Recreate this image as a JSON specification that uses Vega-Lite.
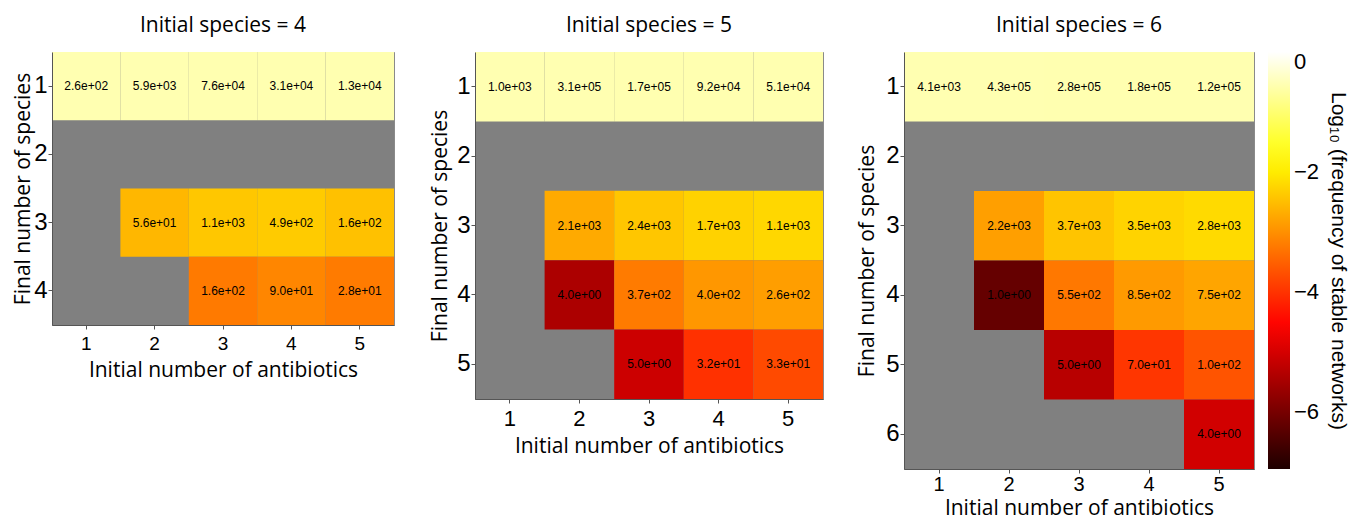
{
  "$schema": "https://vega.github.io/schema/vega-lite/v6.json",
  "background": "white",
  "padding": {"left": 12, "top": 14, "right": 0, "bottom": 0},
  "datasets": {
    "s4": [
      {"a": 1, "s": 1, "count": 260, "label": "2.6e+02", "logf": -0.55},
      {"a": 2, "s": 1, "count": 5900, "label": "5.9e+03", "logf": -0.55},
      {"a": 3, "s": 1, "count": 76000, "label": "7.6e+04", "logf": -0.56},
      {"a": 4, "s": 1, "count": 31000, "label": "3.1e+04", "logf": -0.56},
      {"a": 5, "s": 1, "count": 13000, "label": "1.3e+04", "logf": -0.56},
      {"a": 2, "s": 3, "count": 56, "label": "5.6e+01", "logf": -2.58},
      {"a": 3, "s": 3, "count": 1100, "label": "1.1e+03", "logf": -2.40},
      {"a": 4, "s": 3, "count": 490, "label": "4.9e+02", "logf": -2.36},
      {"a": 5, "s": 3, "count": 160, "label": "1.6e+02", "logf": -2.47},
      {"a": 3, "s": 4, "count": 160, "label": "1.6e+02", "logf": -3.23},
      {"a": 4, "s": 4, "count": 90, "label": "9.0e+01", "logf": -3.10},
      {"a": 5, "s": 4, "count": 28, "label": "2.8e+01", "logf": -3.22}
    ],
    "s5": [
      {"a": 1, "s": 1, "count": 1000, "label": "1.0e+03", "logf": -0.55},
      {"a": 2, "s": 1, "count": 310000, "label": "3.1e+05", "logf": -0.55},
      {"a": 3, "s": 1, "count": 170000, "label": "1.7e+05", "logf": -0.56},
      {"a": 4, "s": 1, "count": 92000, "label": "9.2e+04", "logf": -0.56},
      {"a": 5, "s": 1, "count": 51000, "label": "5.1e+04", "logf": -0.56},
      {"a": 2, "s": 3, "count": 2100, "label": "2.1e+03", "logf": -2.72},
      {"a": 3, "s": 3, "count": 2400, "label": "2.4e+03", "logf": -2.41},
      {"a": 4, "s": 3, "count": 1700, "label": "1.7e+03", "logf": -2.29},
      {"a": 5, "s": 3, "count": 1100, "label": "1.1e+03", "logf": -2.23},
      {"a": 2, "s": 4, "count": 4, "label": "4.0e+00", "logf": -5.44},
      {"a": 3, "s": 4, "count": 370, "label": "3.7e+02", "logf": -3.22},
      {"a": 4, "s": 4, "count": 400, "label": "4.0e+02", "logf": -2.92},
      {"a": 5, "s": 4, "count": 260, "label": "2.6e+02", "logf": -2.85},
      {"a": 3, "s": 5, "count": 5, "label": "5.0e+00", "logf": -5.09},
      {"a": 4, "s": 5, "count": 32, "label": "3.2e+01", "logf": -4.02},
      {"a": 5, "s": 5, "count": 33, "label": "3.3e+01", "logf": -3.75}
    ],
    "s6": [
      {"a": 1, "s": 1, "count": 4100, "label": "4.1e+03", "logf": -0.55},
      {"a": 2, "s": 1, "count": 430000, "label": "4.3e+05", "logf": -0.55},
      {"a": 3, "s": 1, "count": 280000, "label": "2.8e+05", "logf": -0.56},
      {"a": 4, "s": 1, "count": 180000, "label": "1.8e+05", "logf": -0.56},
      {"a": 5, "s": 1, "count": 120000, "label": "1.2e+05", "logf": -0.56},
      {"a": 2, "s": 3, "count": 2200, "label": "2.2e+03", "logf": -2.84},
      {"a": 3, "s": 3, "count": 3700, "label": "3.7e+03", "logf": -2.44},
      {"a": 4, "s": 3, "count": 3500, "label": "3.5e+03", "logf": -2.27},
      {"a": 5, "s": 3, "count": 2800, "label": "2.8e+03", "logf": -2.20},
      {"a": 2, "s": 4, "count": 1, "label": "1.0e+00", "logf": -6.19},
      {"a": 3, "s": 4, "count": 550, "label": "5.5e+02", "logf": -3.26},
      {"a": 4, "s": 4, "count": 850, "label": "8.5e+02", "logf": -2.89},
      {"a": 5, "s": 4, "count": 750, "label": "7.5e+02", "logf": -2.77},
      {"a": 3, "s": 5, "count": 5, "label": "5.0e+00", "logf": -5.31},
      {"a": 4, "s": 5, "count": 70, "label": "7.0e+01", "logf": -3.97},
      {"a": 5, "s": 5, "count": 100, "label": "1.0e+02", "logf": -3.64},
      {"a": 5, "s": 6, "count": 4, "label": "4.0e+00", "logf": -5.04}
    ]
  },
  "spacing": 81,
  "bounds": "flush",
  "hconcat": [
    {
      "width": 342,
      "height": 273,
      "title": {"text": "Initial species = 4"},
      "data": {"name": "s4"},
      "encoding": {
        "x": {"field": "a", "type": "ordinal", "scale": {"domain": [1, 2, 3, 4, 5], "paddingInner": 0, "paddingOuter": 0},
              "axis": {"title": "Initial number of antibiotics", "labelFontSize": 19}},
        "y": {"field": "s", "type": "ordinal", "scale": {"domain": [1, 2, 3, 4], "paddingInner": 0, "paddingOuter": 0},
              "axis": {"title": "Final number of species", "titlePadding": 0}}
      },
      "layer": [
        {"mark": {"type": "rect"},
         "encoding": {"color": {"field": "logf", "type": "quantitative",
           "scale": {"domain": [-6.95, -4.55, -1.8, 0], "range": ["#1e0000", "#ff0000", "#ffff00", "#ffffff"], "interpolate": "rgb"},
           "legend": {"orient": "none", "legendX": 1216, "legendY": 0, "direction": "vertical", "gradientLength": 417, "gradientThickness": 22,
                      "values": [-6, -4, -2, 0], "title": "Log₁₀ (frequency of stable networks)", "titleOrient": "right", "titleAnchor": "middle",
                      "titleFontSize": 21, "titleFont": "Liberation Sans", "titleFontWeight": "normal", "titlePadding": 9, "titleLimit": 600,
                      "labelFontSize": 22, "labelOffset": 4, "padding": 0, "gradientStrokeColor": "#999999", "labelColor": "#000000", "titleColor": "#000000"}}}},
        {"mark": {"type": "text", "fontSize": 12, "color": "#000000"}, "encoding": {"text": {"field": "label"}}}
      ]
    },
    {
      "width": 348,
      "height": 347,
      "title": {"text": "Initial species = 5"},
      "data": {"name": "s5"},
      "encoding": {
        "x": {"field": "a", "type": "ordinal", "scale": {"domain": [1, 2, 3, 4, 5], "paddingInner": 0, "paddingOuter": 0},
              "axis": {"title": "Initial number of antibiotics"}},
        "y": {"field": "s", "type": "ordinal", "scale": {"domain": [1, 2, 3, 4, 5], "paddingInner": 0, "paddingOuter": 0},
              "axis": {"title": "Final number of species", "titlePadding": 6}}
      },
      "layer": [
        {"mark": {"type": "rect"},
         "encoding": {"color": {"field": "logf", "type": "quantitative",
           "scale": {"domain": [-6.95, -4.55, -1.8, 0], "range": ["#1e0000", "#ff0000", "#ffff00", "#ffffff"], "interpolate": "rgb"}}}},
        {"mark": {"type": "text", "fontSize": 12, "color": "#000000"}, "encoding": {"text": {"field": "label"}}}
      ]
    },
    {
      "width": 350,
      "height": 417,
      "title": {"text": "Initial species = 6"},
      "data": {"name": "s6"},
      "encoding": {
        "x": {"field": "a", "type": "ordinal", "scale": {"domain": [1, 2, 3, 4, 5], "paddingInner": 0, "paddingOuter": 0},
              "axis": {"title": "Initial number of antibiotics", "titlePadding": 3, "labelFontSize": 20, "labelPadding": 1}},
        "y": {"field": "s", "type": "ordinal", "scale": {"domain": [1, 2, 3, 4, 5, 6], "paddingInner": 0, "paddingOuter": 0},
              "axis": {"title": "Final number of species", "titlePadding": 8}}
      },
      "layer": [
        {"mark": {"type": "rect"},
         "encoding": {"color": {"field": "logf", "type": "quantitative",
           "scale": {"domain": [-6.95, -4.55, -1.8, 0], "range": ["#1e0000", "#ff0000", "#ffff00", "#ffffff"], "interpolate": "rgb"}}}},
        {"mark": {"type": "text", "fontSize": 12, "color": "#000000"}, "encoding": {"text": {"field": "label"}}}
      ]
    }
  ],
  "config": {
    "font": "Liberation Sans",
    "view": {"fill": "#808080", "stroke": "#8a8a8a", "strokeWidth": 1},
    "title": {"font": "Open Sans", "fontSize": 21, "fontWeight": "normal", "color": "#000000", "offset": 16},
    "axis": {
      "labelFont": "Liberation Sans", "labelColor": "#000000", "labelFontSize": 22, "labelAngle": 0, "labelPadding": 5,
      "titleFont": "Open Sans", "titleFontSize": 21, "titleFontWeight": "normal", "titleColor": "#000000", "titlePadding": 6,
      "domainColor": "#555555", "tickColor": "#555555", "tickSize": 4, "grid": false
    },
    "axisY": {"labelFontSize": 24, "labelPadding": 1}
  }
}
